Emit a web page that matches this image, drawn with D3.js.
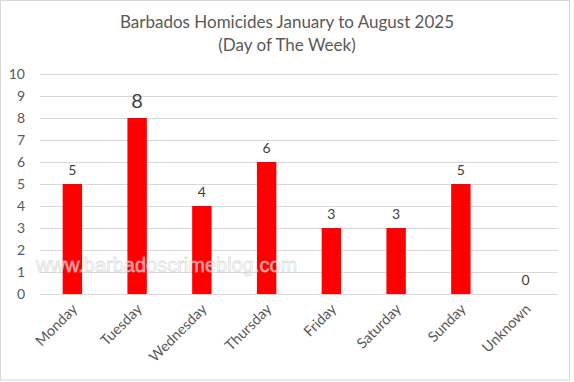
<!DOCTYPE html>
<html><head><meta charset="utf-8">
<script src="https://cdn.jsdelivr.net/npm/d3@7"></script>
<style>body{margin:0;background:#fff}svg{display:block;font-family:Lato,"Open Sans",sans-serif}</style>
</head><body>
<svg id="c" width="574" height="382"></svg>
<script>
const categories = ["Monday","Tuesday","Wednesday","Thursday","Friday","Saturday","Sunday","Unknown"];
const values = [5,8,4,6,3,3,5,0];
const yTicks = [0,1,2,3,4,5,6,7,8,9,10];
const titleLines = ["Barbados Homicides January to August 2025","(Day of The Week)"];
const watermark = "www.barbadoscrimeblog.com";

const svg = d3.select("#c");
svg.append("rect").attr("x",0.5).attr("y",0.5).attr("width",569).attr("height",379.5)
  .attr("fill","#fff").attr("stroke","#d9d9d9");

const m = {l:40, r:16, t:74, b:88};
const W = 574, H = 382;
const x = d3.scaleBand().domain(categories).range([m.l, W-m.r]).paddingInner(0.7).paddingOuter(0.35);
const y = d3.scaleLinear().domain([0,10]).range([294,74]);

// gridlines
svg.append("g").selectAll("line").data(yTicks).join("line")
  .attr("x1",m.l).attr("x2",W-m.r).attr("y1",d=>y(d)+0.5).attr("y2",d=>y(d)+0.5)
  .attr("stroke","#d9d9d9").attr("stroke-width",1);

// y axis labels
const ya = svg.append("g").attr("transform",`translate(25,0)`)
  .call(d3.axisLeft(y).tickValues(yTicks).tickSize(0).tickPadding(0));
ya.select(".domain").remove();
ya.selectAll("text").attr("font-size",14).attr("fill","#595959").attr("font-family","Lato,'Open Sans',sans-serif").attr("text-anchor","end").attr("x",0);

// bars
svg.append("g").selectAll("rect").data(values).join("rect")
  .attr("x",(d,i)=>x(categories[i])).attr("width",x.bandwidth())
  .attr("y",d=>y(d)).attr("height",d=>y(0)-y(d)).attr("fill","#ff0000");

// value labels
svg.append("g").selectAll("text").data(values).join("text")
  .attr("x",(d,i)=>x(categories[i])+x.bandwidth()/2)
  .attr("y",d=>y(d)-(d===8?10:9))
  .attr("text-anchor","middle").attr("font-size",d=>d===8?20:14)
  .attr("fill","#404040").text(d=>d);

// x axis labels
const xa = svg.append("g").attr("transform",`translate(0,${y(0)})`)
  .call(d3.axisBottom(x).tickSize(0).tickPadding(0));
xa.select(".domain").remove();
xa.selectAll("text").attr("font-size",14.5).attr("fill","#595959").attr("font-family","Lato,'Open Sans',sans-serif")
  .attr("text-anchor","end").attr("dy",0).attr("y",0)
  .attr("transform","translate(6,16) rotate(-45)");

// watermark
svg.append("text").attr("x",36).attr("y",272).attr("font-family","Arial,'Liberation Sans',sans-serif")
  .attr("font-size",20).attr("fill","rgba(255,255,255,0.55)").attr("stroke","rgba(200,200,200,0.6)")
  .attr("stroke-width",0.8).text(watermark);

// title
svg.append("g").selectAll("text").data(titleLines).join("text")
  .attr("x",287).attr("y",(d,i)=>28+i*23).attr("text-anchor","middle")
  .attr("font-size",17).attr("fill","#595959").text(d=>d);
</script>
</body></html>
